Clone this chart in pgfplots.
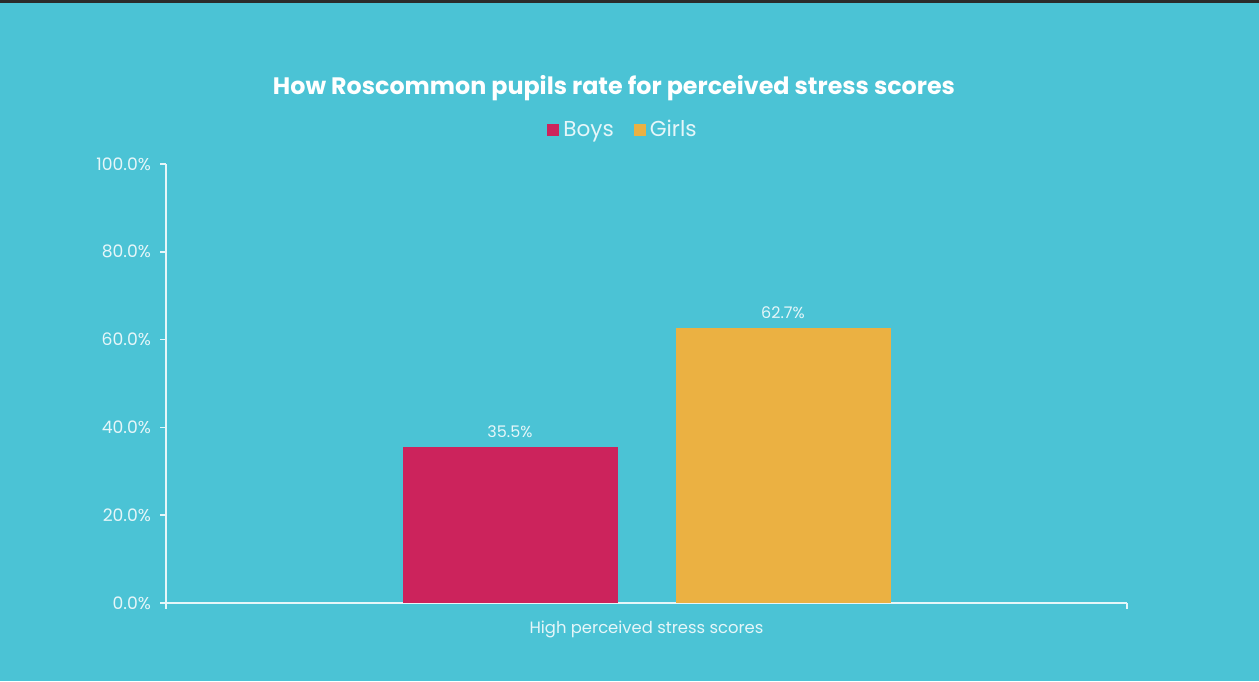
\documentclass[border=0pt]{standalone}
\usepackage{pgfplots}
\pgfplotsset{compat=1.18}
\usepackage{fontspec}
\setmainfont{Poppins}

\definecolor{bg}{HTML}{4BC3D5}
\definecolor{boys}{HTML}{CC235C}
\definecolor{girls}{HTML}{EBB142}
\definecolor{txt}{HTML}{E6F6F9}
\definecolor{topbar}{HTML}{2B2B2B}

\begin{document}
\begin{tikzpicture}
% background, 1px = 0.5pt
\fill[bg] (0pt,0pt) rectangle (629.5pt,-340.5pt);
\fill[topbar] (0pt,0pt) rectangle (629.5pt,-1.5pt);
\useasboundingbox (0pt,0pt) rectangle (629.5pt,-340.5pt);

\node[font=\bfseries\fontsize{11.9}{13}\selectfont, text=white] at (307pt,-44pt)
    {How Roscommon pupils rate for perceived stress scores};

\begin{axis}[
    at={(83pt,-301.5pt)},
    anchor=south west,
    scale only axis,
    width=480.5pt,
    height=219.5pt,
    xmin=0, xmax=1,
    ymin=0, ymax=100,
    axis lines*=left,
    axis line style={draw=txt, line width=0.75pt},
    ybar=29pt,
    bar width=107.5pt,
    ytick={0,20,...,100},
    yticklabel={\pgfmathprintnumber[fixed,fixed zerofill,precision=1,assume math mode=true]{\tick}\%},
    xtick={0,1},
    xticklabels={},
    xlabel={High perceived stress scores},
    xlabel style={text=txt, font=\fontsize{8.2}{10}\selectfont, yshift=4.5pt},
    tick align=outside,
    major tick length=3pt,
    tick style={draw=txt, line width=0.75pt},
    ticklabel style={text=txt, font=\fontsize{8.6}{10}\selectfont},
    yticklabel style={xshift=-1pt},
    nodes near coords={\pgfmathprintnumber[fixed,fixed zerofill,precision=1,assume math mode=true]{\pgfplotspointmeta}\%},
    nodes near coords style={text=txt, font=\fontsize{8}{9}\selectfont, yshift=1pt},
    legend columns=2,
    legend style={at={(0.4766,1.0774)}, anchor=center, draw=none, fill=none,
        text=txt, font=\fontsize{10.8}{12}\selectfont,
        /tikz/every even column/.append style={column sep=8pt}},
    legend image code/.code={\fill[#1] (0pt,-3pt) rectangle (6pt,3pt);},
]
\addplot[fill=boys, draw=none] coordinates {(0.5,35.5)};
\addlegendentry{Boys}
\addplot[fill=girls, draw=none] coordinates {(0.5,62.7)};
\addlegendentry{Girls}
\end{axis}
\end{tikzpicture}
\end{document}
